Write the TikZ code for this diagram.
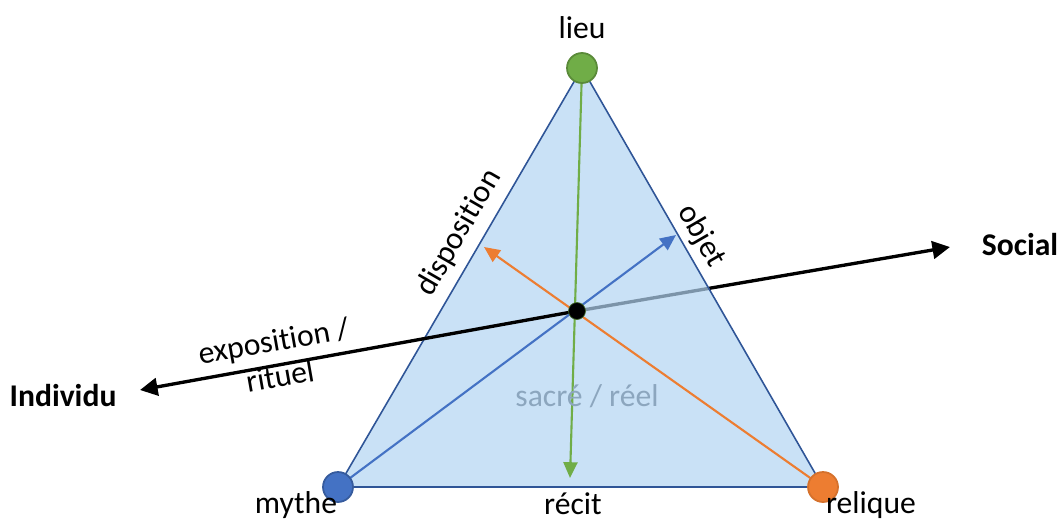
\documentclass[tikz,border=0pt]{standalone}
\usepackage{fontspec}
\setmainfont[Ligatures=CommonOff]{Carlito}
\usetikzlibrary{arrows.meta}
\definecolor{trifill}{RGB}{178,212,242}
\definecolor{triedge}{RGB}{47,85,151}
\definecolor{vgreen}{RGB}{112,173,71}
\definecolor{vblue}{RGB}{68,114,196}
\definecolor{vorange}{RGB}{237,125,49}
\definecolor{labgray}{RGB}{140,166,190}

\begin{document}
\begin{tikzpicture}[x=0.02cm,y=-0.02cm,
    lbl/.style={font=\fontsize{18}{21}\selectfont},
    vertex/.style={circle, minimum size=30*0.02cm, inner sep=0pt, line width=1pt},
    axis/.style={line width=1.9pt, -{Triangle[length=10pt,width=10pt]}},
    diag/.style={line width=1.2pt, -{Triangle[length=9pt,width=8pt]}}]
        \useasboundingbox (0,0) rectangle (1060,521);

        % Sommets et centre
        \coordinate (top) at (582,68);
        \coordinate (left) at (338,487);
        \coordinate (right) at (823,487);
        \coordinate (mid) at (577,311);
        \coordinate (indiv) at (140,390);
        \coordinate (soc) at (950,247);
        \coordinate (recit) at (570,478);
        \coordinate (obj) at (676,235);
        \coordinate (disp) at (484,247);

        % Axe vers le social (sous le triangle)
        \draw[axis] (mid) -- (soc);

        % Triangle
        \fill[trifill, fill opacity=0.7] (top) -- (left) -- (right) -- cycle;
        \draw[triedge, line width=0.9pt] (top) -- (left) -- (right) -- cycle;

        % Axe vers l'individu
        \draw[axis] (mid) -- (indiv);

        % Fleches internes
        \draw[diag, vgreen] (top) -- (recit);
        \draw[diag, vblue] (left) -- (obj);
        \draw[diag, vorange] (right) -- (disp);

        % Cercles
        \node[vertex, fill=vgreen, draw=vgreen!80!black] (lieu) at (top) {};
        \node[vertex, fill=vblue, draw=vblue!80!black] (mythe) at (left) {};
        \node[vertex, fill=vorange, draw=vorange!90!black] (relique) at (right) {};
        \node[circle, fill=black, draw=vgreen!60!black, minimum size=17*0.02cm, inner sep=0pt] (centre) at (mid) {};

        % Etiquettes
        \node[lbl] (tlieu) at (582,28) {lieu};
        \node[lbl] (tmythe) at (296,505) {mythe};
        \node[lbl] (trecit) at (573,504) {récit};
        \node[lbl] (trelique) at (871,505) {relique};
        \node[lbl, rotate=60] (tdisp) at (459,233) {disposition};
        \node[lbl, rotate=-60] (tobjet) at (701,236) {objet};
        \node[lbl, rotate=10] (texpo) at (274,343) {exposition /};
        \node[lbl, rotate=10] (trituel) at (280,376) {rituel};
        \node[lbl, labgray] (tsacre) at (587,396) {sacré / réel};
        \node[lbl, font=\fontsize{18}{21}\selectfont\bfseries] (tindiv) at (63,396) {Individu};
        \node[lbl, font=\fontsize{18}{21}\selectfont\bfseries] (tsocial) at (1020,245) {Social};
      \end{tikzpicture}
\end{document}
